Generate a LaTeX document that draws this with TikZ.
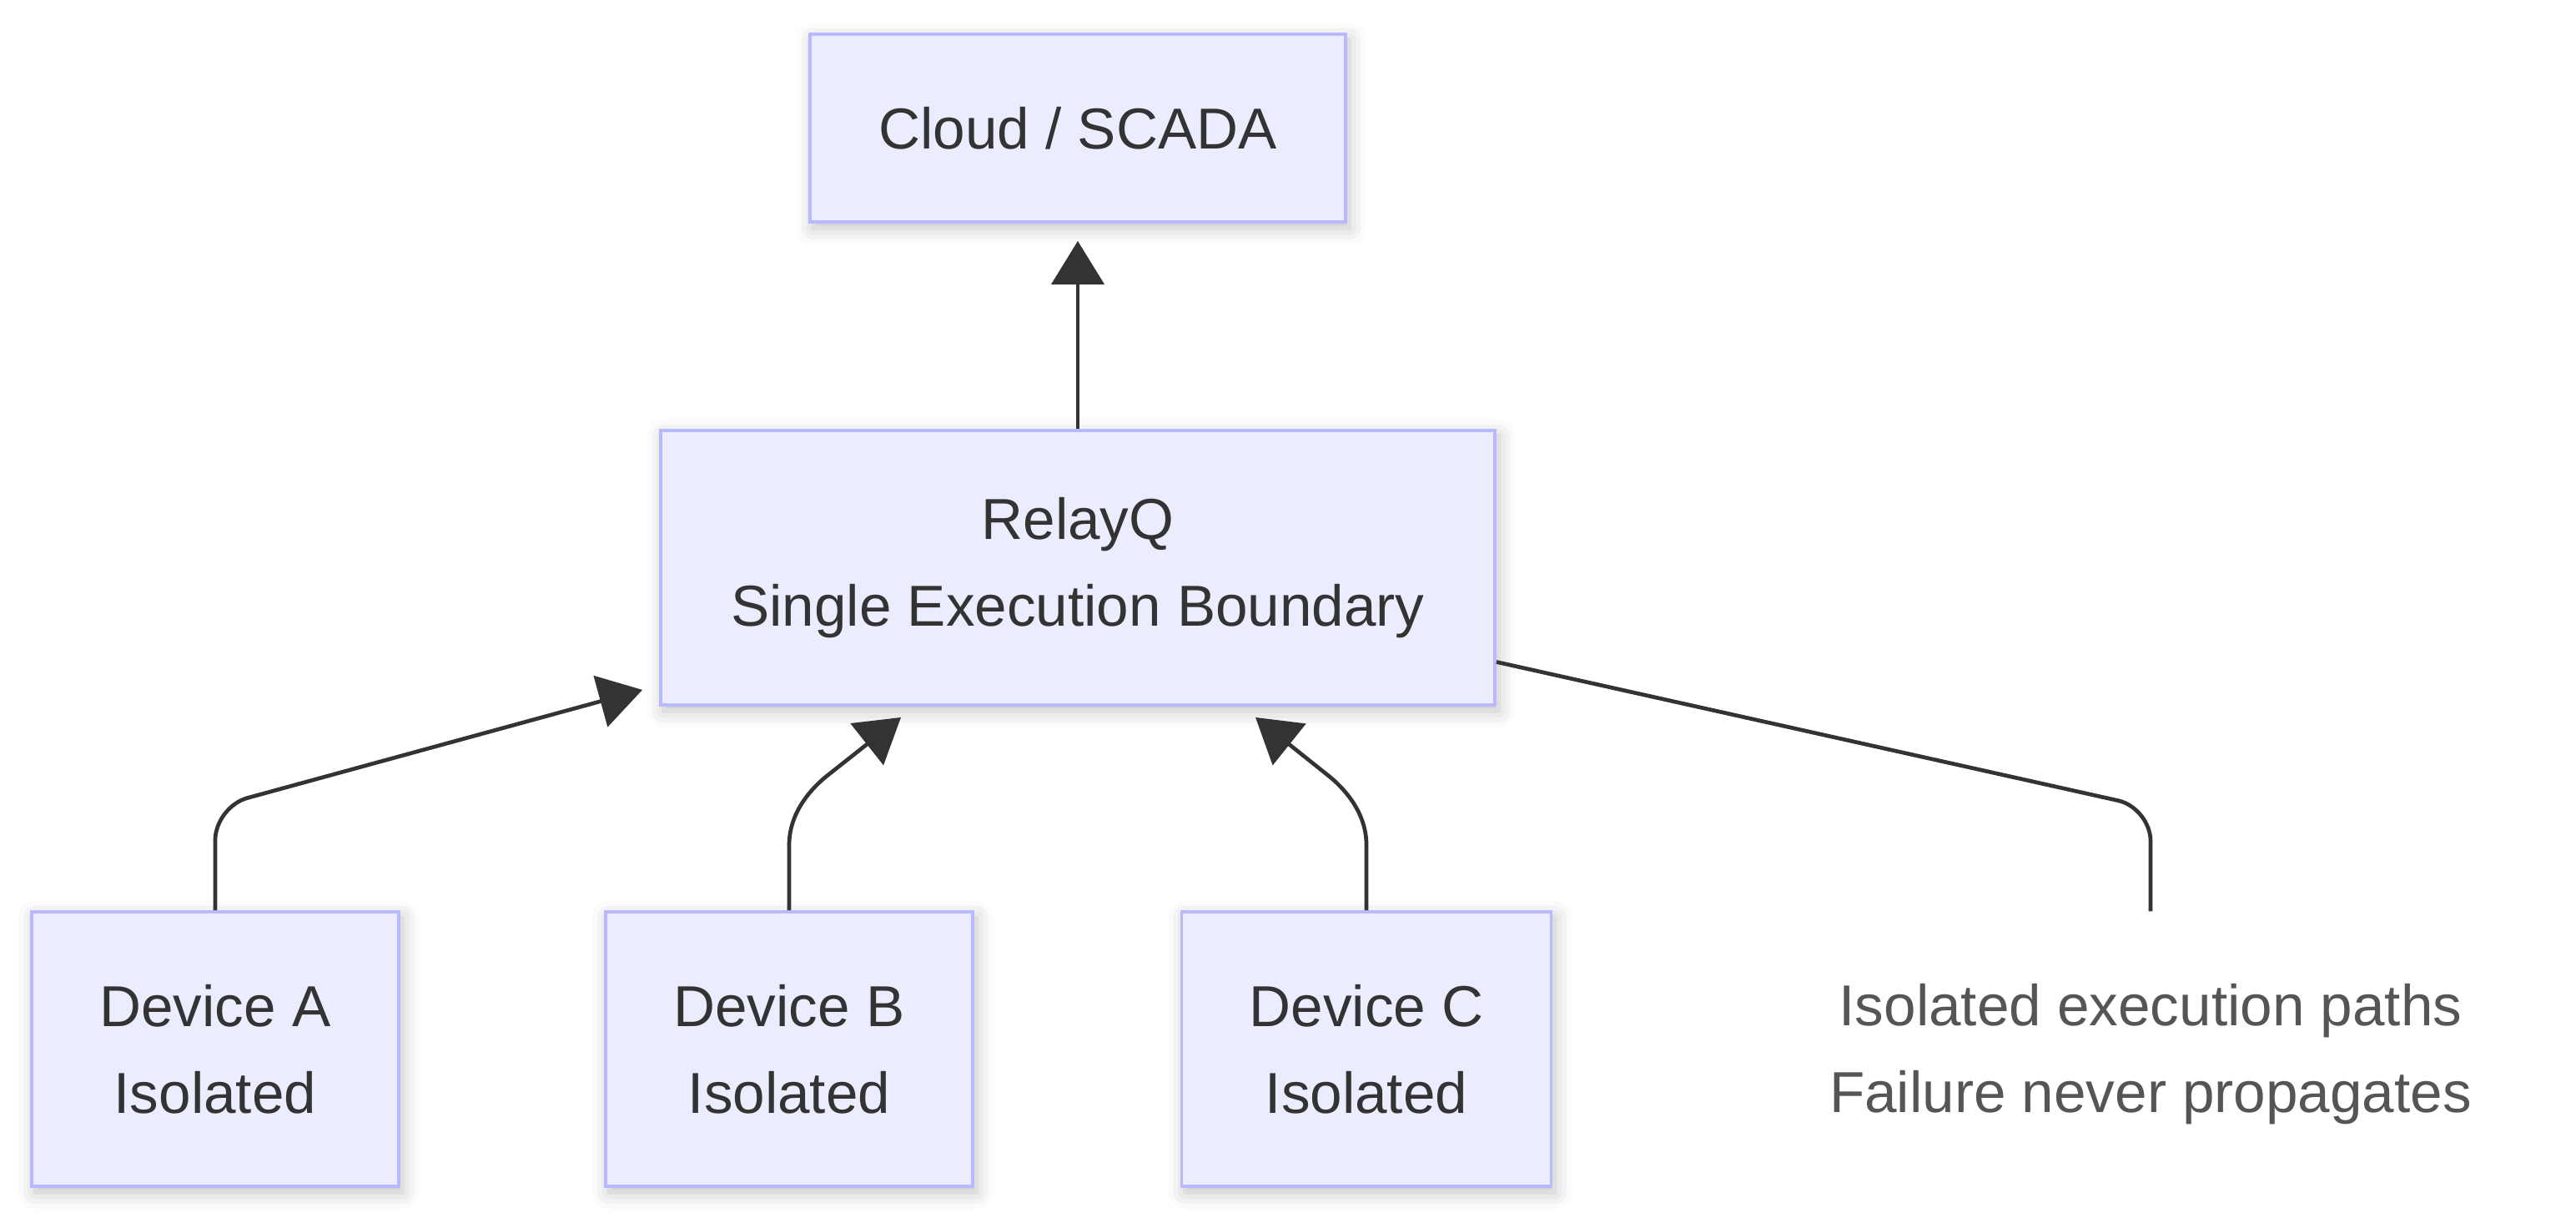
\documentclass[tikz,border=0pt]{standalone}
\usepackage{fontspec}
\setmainfont{Liberation Sans}
\usepackage{xcolor}
\usetikzlibrary{arrows.meta,shadows.blur,positioning}

\definecolor{boxfill}{HTML}{ECECFF}
\definecolor{boxline}{HTML}{B9B9FF}
\definecolor{textdark}{HTML}{333333}
\definecolor{notegray}{HTML}{555555}

\begin{document}
\begin{tikzpicture}[node distance=5.77cm,
    box node/.style={rectangle,draw=boxline,fill=boxfill,line width=1.1pt,text=textdark,align=center,
        minimum width=4.4cm,minimum height=3.29cm,font=\fontsize{19.7}{29.6}\selectfont,
        blur shadow={shadow xshift=0.04cm,shadow yshift=-0.07cm,shadow blur radius=0.2cm,shadow opacity=25}},
    note node/.style={rectangle,align=center,text=notegray,minimum width=4.4cm,minimum height=3.41cm,
        font=\fontsize{19.7}{29.6}\selectfont},
    link/.style={-{Triangle[length=14.8pt,width=17.9pt]},line width=1.34pt,color=textdark},
    plain link/.style={-,line width=1.34pt,color=textdark}]
    \useasboundingbox (0,0) rectangle (30.88,14.65);

    \node[box node,minimum width=6.42cm,minimum height=2.25cm] (cloud) at (12.92,13.115) {Cloud / SCADA};
    \node[box node,minimum width=10cm] (relay) [below of = cloud, node distance=5.27cm] {RelayQ\\Single Execution Boundary};

    \node[box node] (devA) [below of = relay, xshift=-10.34cm] {Device A\\Isolated};
    \node[box node] (devB) [below of = relay, xshift=-3.46cm] {Device B\\Isolated};
    \node[box node,minimum width=4.43cm] (devC) [below of = relay, xshift=3.46cm] {Device C\\Isolated};
    \node[note node] (note) [below of = relay, xshift=12.86cm, yshift=-0.06cm] {Isolated execution paths\\Failure never propagates};

    % arrow tips stop short of the RelayQ box
    \coordinate (tipA) at ([shift={(-0.20,0.20)}]relay.south west);
    \coordinate (tipB) at ([shift={(-2.12,-0.13)}]relay.south);
    \coordinate (tipC) at ([shift={(2.13,-0.13)}]relay.south);

    \path[link]
        (relay) edge[shorten >=0.21cm] (cloud)
        ;
    \draw[link,rounded corners=0.4cm] (devA.north) -- ++(0,1.24) -- (tipA);
    \draw[link] (devB.north) -- ++(0,0.78) .. controls +(0,0.35) and +(-0.23,-0.19) .. ++(0.44,0.82) -- (tipB);
    \draw[link] (devC.north) -- ++(0,0.78) .. controls +(0,0.35) and +(0.23,-0.19) .. ++(-0.44,0.82) -- (tipC);
    \draw[plain link,rounded corners=0.4cm] ([yshift=-1.13cm]relay.east) -- ([yshift=1.24cm]note.north) -- (note.north);
\end{tikzpicture}
\end{document}
